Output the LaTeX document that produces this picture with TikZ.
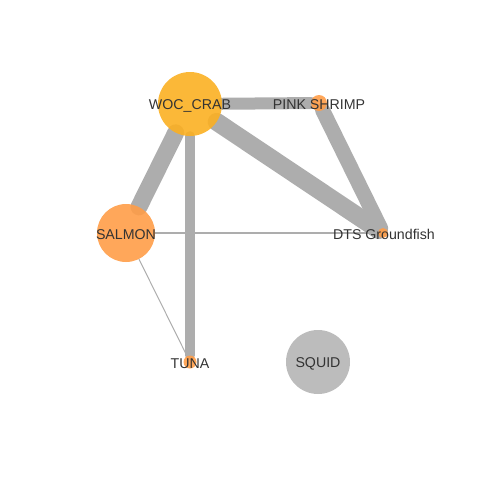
\documentclass[tikz,border=0pt]{standalone}
\usepackage{fontspec}
\setmainfont{Liberation Sans}
\usetikzlibrary{backgrounds}
\definecolor{edgegray}{HTML}{ADADAD}
\definecolor{crab}{HTML}{FBB022}
\definecolor{fishorange}{HTML}{FF9D48}
\definecolor{squidgray}{HTML}{B5B5B5}
\definecolor{labeltext}{HTML}{333333}
\begin{document}
\begin{tikzpicture}[x=1pt,y=-1pt,
  vertex/.style={circle, inner sep=0pt, draw=none, fill opacity=0.9},
  tag/.style={font=\fontsize{14.2}{14.2}\selectfont, text=labeltext, inner sep=0pt, yshift=-1.5pt},
  link/.style={draw=edgegray, line cap=round},
]
\useasboundingbox (0,0) rectangle (480,480);

% fishery nodes, sized by weight
\node[vertex, fill=crab, minimum size=64pt] (crab) at (190,104) {};
\node[vertex, fill=fishorange, minimum size=16pt] (shrimp) at (319,103) {};
\node[vertex, fill=fishorange, minimum size=58pt] (salmon) at (126,233) {};
\node[vertex, fill=fishorange, minimum size=10pt] (dts) at (383,233) {};
\node[vertex, fill=fishorange, minimum size=13pt] (tuna) at (190,362) {};
\node[vertex, fill=squidgray, minimum size=64pt] (squid) at (318,362) {};

% links, width by shared participation
\begin{scope}[on background layer]
  \draw[link, line width=12pt] (crab) -- (shrimp);
  \draw[link, line width=17pt] (crab) -- (salmon);
  \draw[link, line width=10pt] (crab) -- (tuna);
  \draw[link, line width=18pt] (crab) -- (dts);
  \draw[link, line width=15pt] (shrimp) -- (dts);
  \draw[link, line width=2pt] (salmon) -- (dts);
  \draw[link, line width=1pt] (salmon) -- (tuna);
\end{scope}

% labels
\node[tag] (crablbl) at (crab) {WOC\_CRAB};
\node[tag] (shrimplbl) at (shrimp) {PINK SHRIMP};
\node[tag] (salmonlbl) at (salmon) {SALMON};
\node[tag] (dtslbl) at (384,233) {DTS Groundfish};
\node[tag] (tunalbl) at (tuna) {TUNA};
\node[tag] (squidlbl) at (squid) {SQUID};
\end{tikzpicture}
\end{document}
